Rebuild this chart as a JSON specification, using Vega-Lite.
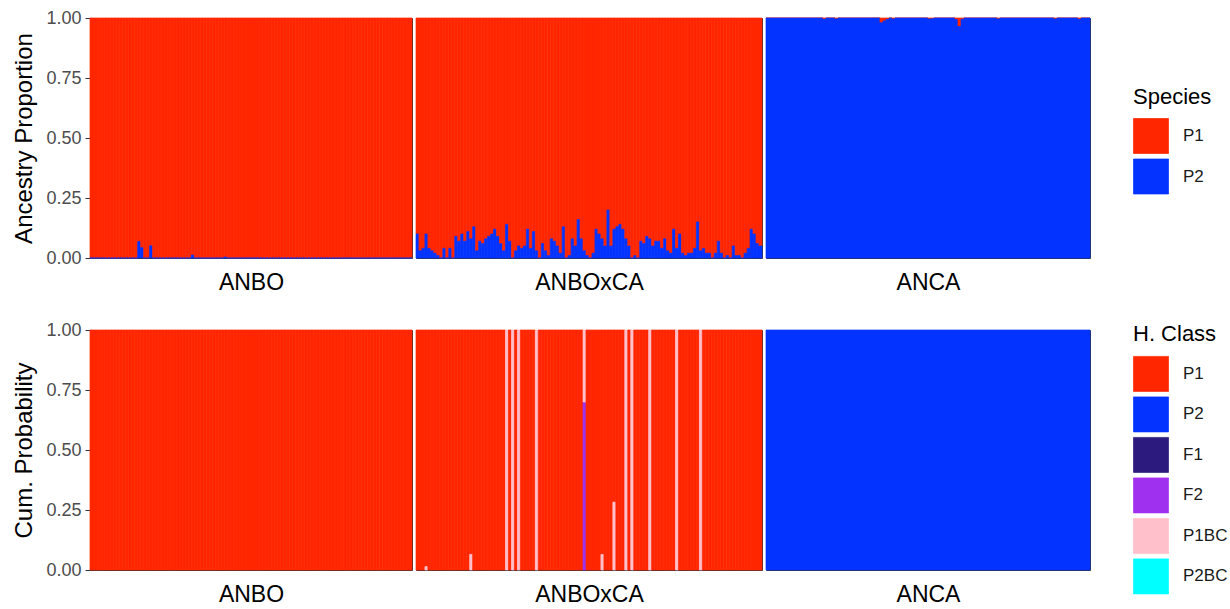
{
"$schema":"https://vega.github.io/schema/vega-lite/v6.json",
"padding":{"left":12,"top":8,"right":5,"bottom":5},
"background":"white",
"config":{
 "font":"Liberation Sans",
 "view":{"stroke":"#333333","strokeWidth":1},
 "axis":{"grid":false,"domain":false},
 "axisY":{"tickColor":"#333333","tickSize":5,"labelColor":"#4D4D4D","labelFontSize":18,"labelPadding":4,"labelFlush":false,"labelOverlap":false,"titleFontSize":24,"titleFontWeight":"normal","titleColor":"black","titlePadding":9},
 "axisX":{"labels":false,"ticks":false,"titleFontSize":23,"titleFontWeight":"normal","titleColor":"black","titlePadding":13},
 "bar":{"strokeWidth":0.7},
 "legend":{"titleFontSize":22,"titleFontWeight":"normal","titleColor":"black","labelFontSize":17,"labelColor":"#1A1A1A","symbolType":"square","symbolSize":1225,"symbolStrokeWidth":0,"symbolOpacity":1,"rowPadding":2.5,"labelOffset":14,"titlePadding":9.5}
},
"datasets":{
 "tANBO":[{"i":1,"P1":1,"P2":0},{"i":2,"P1":1,"P2":0},{"i":3,"P1":1,"P2":0},{"i":4,"P1":1,"P2":0},{"i":5,"P1":1,"P2":0},{"i":6,"P1":1,"P2":0},{"i":7,"P1":1,"P2":0},{"i":8,"P1":1,"P2":0},{"i":9,"P1":1,"P2":0},{"i":10,"P1":1,"P2":0},{"i":11,"P1":1,"P2":0},{"i":12,"P1":1,"P2":0},{"i":13,"P1":1,"P2":0},{"i":14,"P1":1,"P2":0},{"i":15,"P1":1,"P2":0},{"i":16,"P1":1,"P2":0},{"i":17,"P1":0.932,"P2":0.068},{"i":18,"P1":0.957,"P2":0.043},{"i":19,"P1":1,"P2":0},{"i":20,"P1":1,"P2":0},{"i":21,"P1":0.949,"P2":0.051},{"i":22,"P1":1,"P2":0},{"i":23,"P1":1,"P2":0},{"i":24,"P1":1,"P2":0},{"i":25,"P1":1,"P2":0},{"i":26,"P1":1,"P2":0},{"i":27,"P1":1,"P2":0},{"i":28,"P1":1,"P2":0},{"i":29,"P1":1,"P2":0},{"i":30,"P1":1,"P2":0},{"i":31,"P1":1,"P2":0},{"i":32,"P1":1,"P2":0},{"i":33,"P1":1,"P2":0},{"i":34,"P1":1,"P2":0},{"i":35,"P1":0.988,"P2":0.012},{"i":36,"P1":1,"P2":0},{"i":37,"P1":1,"P2":0},{"i":38,"P1":1,"P2":0},{"i":39,"P1":1,"P2":0},{"i":40,"P1":1,"P2":0},{"i":41,"P1":1,"P2":0},{"i":42,"P1":1,"P2":0},{"i":43,"P1":1,"P2":0},{"i":44,"P1":1,"P2":0},{"i":45,"P1":1,"P2":0},{"i":46,"P1":0.996,"P2":0.004},{"i":47,"P1":1,"P2":0},{"i":48,"P1":1,"P2":0},{"i":49,"P1":1,"P2":0},{"i":50,"P1":1,"P2":0},{"i":51,"P1":1,"P2":0},{"i":52,"P1":1,"P2":0},{"i":53,"P1":1,"P2":0},{"i":54,"P1":1,"P2":0},{"i":55,"P1":1,"P2":0},{"i":56,"P1":1,"P2":0},{"i":57,"P1":1,"P2":0},{"i":58,"P1":1,"P2":0},{"i":59,"P1":1,"P2":0},{"i":60,"P1":1,"P2":0},{"i":61,"P1":1,"P2":0},{"i":62,"P1":1,"P2":0},{"i":63,"P1":1,"P2":0},{"i":64,"P1":1,"P2":0},{"i":65,"P1":1,"P2":0},{"i":66,"P1":1,"P2":0},{"i":67,"P1":1,"P2":0},{"i":68,"P1":1,"P2":0},{"i":69,"P1":1,"P2":0},{"i":70,"P1":1,"P2":0},{"i":71,"P1":1,"P2":0},{"i":72,"P1":1,"P2":0},{"i":73,"P1":1,"P2":0},{"i":74,"P1":1,"P2":0},{"i":75,"P1":1,"P2":0},{"i":76,"P1":1,"P2":0},{"i":77,"P1":1,"P2":0},{"i":78,"P1":1,"P2":0},{"i":79,"P1":1,"P2":0},{"i":80,"P1":1,"P2":0},{"i":81,"P1":1,"P2":0},{"i":82,"P1":1,"P2":0},{"i":83,"P1":1,"P2":0},{"i":84,"P1":1,"P2":0},{"i":85,"P1":1,"P2":0},{"i":86,"P1":1,"P2":0},{"i":87,"P1":1,"P2":0},{"i":88,"P1":1,"P2":0},{"i":89,"P1":1,"P2":0},{"i":90,"P1":1,"P2":0},{"i":91,"P1":1,"P2":0},{"i":92,"P1":1,"P2":0},{"i":93,"P1":1,"P2":0},{"i":94,"P1":1,"P2":0},{"i":95,"P1":1,"P2":0},{"i":96,"P1":1,"P2":0},{"i":97,"P1":1,"P2":0},{"i":98,"P1":1,"P2":0},{"i":99,"P1":1,"P2":0},{"i":100,"P1":1,"P2":0},{"i":101,"P1":1,"P2":0},{"i":102,"P1":1,"P2":0},{"i":103,"P1":1,"P2":0},{"i":104,"P1":1,"P2":0},{"i":105,"P1":1,"P2":0},{"i":106,"P1":1,"P2":0},{"i":107,"P1":1,"P2":0},{"i":108,"P1":1,"P2":0}],
 "tHYB":[{"i":1,"P1":0.90,"P2":0.10},{"i":2,"P1":0.97,"P2":0.03},{"i":3,"P1":0.96,"P2":0.04},{"i":4,"P1":0.90,"P2":0.10},{"i":5,"P1":0.96,"P2":0.04},{"i":6,"P1":0.97,"P2":0.03},{"i":7,"P1":0.98,"P2":0.02},{"i":8,"P1":0.99,"P2":0.01},{"i":9,"P1":1,"P2":0},{"i":10,"P1":0.96,"P2":0.04},{"i":11,"P1":1,"P2":0},{"i":12,"P1":0.96,"P2":0.04},{"i":13,"P1":1,"P2":0},{"i":14,"P1":0.91,"P2":0.09},{"i":15,"P1":0.93,"P2":0.07},{"i":16,"P1":0.90,"P2":0.10},{"i":17,"P1":0.93,"P2":0.07},{"i":18,"P1":0.89,"P2":0.11},{"i":19,"P1":0.92,"P2":0.08},{"i":20,"P1":0.87,"P2":0.13},{"i":21,"P1":0.97,"P2":0.03},{"i":22,"P1":0.93,"P2":0.07},{"i":23,"P1":0.94,"P2":0.06},{"i":24,"P1":0.92,"P2":0.08},{"i":25,"P1":0.91,"P2":0.09},{"i":26,"P1":0.90,"P2":0.10},{"i":27,"P1":0.88,"P2":0.12},{"i":28,"P1":0.91,"P2":0.09},{"i":29,"P1":0.94,"P2":0.06},{"i":30,"P1":0.97,"P2":0.03},{"i":31,"P1":0.86,"P2":0.14},{"i":32,"P1":0.93,"P2":0.07},{"i":33,"P1":1,"P2":0},{"i":34,"P1":0.97,"P2":0.03},{"i":35,"P1":0.95,"P2":0.05},{"i":36,"P1":0.96,"P2":0.04},{"i":37,"P1":0.95,"P2":0.05},{"i":38,"P1":0.88,"P2":0.12},{"i":39,"P1":0.96,"P2":0.04},{"i":40,"P1":0.89,"P2":0.11},{"i":41,"P1":0.97,"P2":0.03},{"i":42,"P1":1,"P2":0},{"i":43,"P1":0.94,"P2":0.06},{"i":44,"P1":0.97,"P2":0.03},{"i":45,"P1":0.99,"P2":0.01},{"i":46,"P1":0.92,"P2":0.08},{"i":47,"P1":0.93,"P2":0.07},{"i":48,"P1":0.95,"P2":0.05},{"i":49,"P1":0.98,"P2":0.02},{"i":50,"P1":0.87,"P2":0.13},{"i":51,"P1":1,"P2":0},{"i":52,"P1":0.99,"P2":0.01},{"i":53,"P1":0.92,"P2":0.08},{"i":54,"P1":0.95,"P2":0.05},{"i":55,"P1":0.84,"P2":0.16},{"i":56,"P1":0.92,"P2":0.08},{"i":57,"P1":0.97,"P2":0.03},{"i":58,"P1":0.99,"P2":0.01},{"i":59,"P1":1,"P2":0},{"i":60,"P1":0.98,"P2":0.02},{"i":61,"P1":0.88,"P2":0.12},{"i":62,"P1":0.90,"P2":0.10},{"i":63,"P1":0.92,"P2":0.08},{"i":64,"P1":0.95,"P2":0.05},{"i":65,"P1":0.80,"P2":0.20},{"i":66,"P1":0.95,"P2":0.05},{"i":67,"P1":0.88,"P2":0.12},{"i":68,"P1":0.87,"P2":0.13},{"i":69,"P1":0.86,"P2":0.14},{"i":70,"P1":0.88,"P2":0.12},{"i":71,"P1":0.92,"P2":0.08},{"i":72,"P1":0.95,"P2":0.05},{"i":73,"P1":1,"P2":0},{"i":74,"P1":0.99,"P2":0.01},{"i":75,"P1":1,"P2":0},{"i":76,"P1":0.93,"P2":0.07},{"i":77,"P1":0.94,"P2":0.06},{"i":78,"P1":0.91,"P2":0.09},{"i":79,"P1":0.92,"P2":0.08},{"i":80,"P1":0.95,"P2":0.05},{"i":81,"P1":0.93,"P2":0.07},{"i":82,"P1":0.93,"P2":0.07},{"i":83,"P1":0.96,"P2":0.04},{"i":84,"P1":0.92,"P2":0.08},{"i":85,"P1":0.97,"P2":0.03},{"i":86,"P1":0.98,"P2":0.02},{"i":87,"P1":0.88,"P2":0.12},{"i":88,"P1":0.96,"P2":0.04},{"i":89,"P1":0.90,"P2":0.10},{"i":90,"P1":0.98,"P2":0.02},{"i":91,"P1":0.99,"P2":0.01},{"i":92,"P1":0.98,"P2":0.02},{"i":93,"P1":0.98,"P2":0.02},{"i":94,"P1":0.96,"P2":0.04},{"i":95,"P1":0.85,"P2":0.15},{"i":96,"P1":0.97,"P2":0.03},{"i":97,"P1":0.96,"P2":0.04},{"i":98,"P1":0.98,"P2":0.02},{"i":99,"P1":0.98,"P2":0.02},{"i":100,"P1":1,"P2":0},{"i":101,"P1":0.98,"P2":0.02},{"i":102,"P1":0.93,"P2":0.07},{"i":103,"P1":0.98,"P2":0.02},{"i":104,"P1":1,"P2":0},{"i":105,"P1":0.99,"P2":0.01},{"i":106,"P1":1,"P2":0},{"i":107,"P1":0.95,"P2":0.05},{"i":108,"P1":0.99,"P2":0.01},{"i":109,"P1":0.99,"P2":0.01},{"i":110,"P1":1,"P2":0},{"i":111,"P1":0.98,"P2":0.02},{"i":112,"P1":0.96,"P2":0.04},{"i":113,"P1":0.88,"P2":0.12},{"i":114,"P1":0.90,"P2":0.10},{"i":115,"P1":0.94,"P2":0.06},{"i":116,"P1":0.95,"P2":0.05}],
 "tANCA":[{"i":1,"P1":0,"P2":1},{"i":2,"P1":0,"P2":1},{"i":3,"P1":0,"P2":1},{"i":4,"P1":0,"P2":1},{"i":5,"P1":0,"P2":1},{"i":6,"P1":0,"P2":1},{"i":7,"P1":0,"P2":1},{"i":8,"P1":0,"P2":1},{"i":9,"P1":0,"P2":1},{"i":10,"P1":0,"P2":1},{"i":11,"P1":0,"P2":1},{"i":12,"P1":0,"P2":1},{"i":13,"P1":0,"P2":1},{"i":14,"P1":0,"P2":1},{"i":15,"P1":0,"P2":1},{"i":16,"P1":0,"P2":1},{"i":17,"P1":0,"P2":1},{"i":18,"P1":0,"P2":1},{"i":19,"P1":0,"P2":1},{"i":20,"P1":0.005,"P2":0.995},{"i":21,"P1":0,"P2":1},{"i":22,"P1":0,"P2":1},{"i":23,"P1":0,"P2":1},{"i":24,"P1":0.004,"P2":0.996},{"i":25,"P1":0,"P2":1},{"i":26,"P1":0,"P2":1},{"i":27,"P1":0,"P2":1},{"i":28,"P1":0,"P2":1},{"i":29,"P1":0,"P2":1},{"i":30,"P1":0,"P2":1},{"i":31,"P1":0,"P2":1},{"i":32,"P1":0,"P2":1},{"i":33,"P1":0,"P2":1},{"i":34,"P1":0,"P2":1},{"i":35,"P1":0,"P2":1},{"i":36,"P1":0,"P2":1},{"i":37,"P1":0,"P2":1},{"i":38,"P1":0,"P2":1},{"i":39,"P1":0.02,"P2":0.98},{"i":40,"P1":0.012,"P2":0.988},{"i":41,"P1":0.006,"P2":0.994},{"i":42,"P1":0,"P2":1},{"i":43,"P1":0.004,"P2":0.996},{"i":44,"P1":0,"P2":1},{"i":45,"P1":0,"P2":1},{"i":46,"P1":0,"P2":1},{"i":47,"P1":0,"P2":1},{"i":48,"P1":0,"P2":1},{"i":49,"P1":0,"P2":1},{"i":50,"P1":0,"P2":1},{"i":51,"P1":0,"P2":1},{"i":52,"P1":0,"P2":1},{"i":53,"P1":0,"P2":1},{"i":54,"P1":0,"P2":1},{"i":55,"P1":0.004,"P2":0.996},{"i":56,"P1":0.003,"P2":0.997},{"i":57,"P1":0,"P2":1},{"i":58,"P1":0,"P2":1},{"i":59,"P1":0,"P2":1},{"i":60,"P1":0,"P2":1},{"i":61,"P1":0,"P2":1},{"i":62,"P1":0,"P2":1},{"i":63,"P1":0,"P2":1},{"i":64,"P1":0.006,"P2":0.994},{"i":65,"P1":0.035,"P2":0.965},{"i":66,"P1":0.005,"P2":0.995},{"i":67,"P1":0,"P2":1},{"i":68,"P1":0,"P2":1},{"i":69,"P1":0,"P2":1},{"i":70,"P1":0,"P2":1},{"i":71,"P1":0,"P2":1},{"i":72,"P1":0,"P2":1},{"i":73,"P1":0,"P2":1},{"i":74,"P1":0,"P2":1},{"i":75,"P1":0,"P2":1},{"i":76,"P1":0,"P2":1},{"i":77,"P1":0,"P2":1},{"i":78,"P1":0.004,"P2":0.996},{"i":79,"P1":0,"P2":1},{"i":80,"P1":0,"P2":1},{"i":81,"P1":0,"P2":1},{"i":82,"P1":0,"P2":1},{"i":83,"P1":0,"P2":1},{"i":84,"P1":0,"P2":1},{"i":85,"P1":0,"P2":1},{"i":86,"P1":0,"P2":1},{"i":87,"P1":0,"P2":1},{"i":88,"P1":0,"P2":1},{"i":89,"P1":0,"P2":1},{"i":90,"P1":0,"P2":1},{"i":91,"P1":0,"P2":1},{"i":92,"P1":0,"P2":1},{"i":93,"P1":0,"P2":1},{"i":94,"P1":0,"P2":1},{"i":95,"P1":0,"P2":1},{"i":96,"P1":0,"P2":1},{"i":97,"P1":0.004,"P2":0.996},{"i":98,"P1":0,"P2":1},{"i":99,"P1":0,"P2":1},{"i":100,"P1":0,"P2":1},{"i":101,"P1":0,"P2":1},{"i":102,"P1":0,"P2":1},{"i":103,"P1":0,"P2":1},{"i":104,"P1":0,"P2":1},{"i":105,"P1":0.005,"P2":0.995},{"i":106,"P1":0,"P2":1},{"i":107,"P1":0,"P2":1},{"i":108,"P1":0,"P2":1}],
 "bANBO":[{"i":1,"c":"P1","p":1},{"i":2,"c":"P1","p":1},{"i":3,"c":"P1","p":1},{"i":4,"c":"P1","p":1},{"i":5,"c":"P1","p":1},{"i":6,"c":"P1","p":1},{"i":7,"c":"P1","p":1},{"i":8,"c":"P1","p":1},{"i":9,"c":"P1","p":1},{"i":10,"c":"P1","p":1},{"i":11,"c":"P1","p":1},{"i":12,"c":"P1","p":1},{"i":13,"c":"P1","p":1},{"i":14,"c":"P1","p":1},{"i":15,"c":"P1","p":1},{"i":16,"c":"P1","p":1},{"i":17,"c":"P1","p":1},{"i":18,"c":"P1","p":1},{"i":19,"c":"P1","p":1},{"i":20,"c":"P1","p":1},{"i":21,"c":"P1","p":1},{"i":22,"c":"P1","p":1},{"i":23,"c":"P1","p":1},{"i":24,"c":"P1","p":1},{"i":25,"c":"P1","p":1},{"i":26,"c":"P1","p":1},{"i":27,"c":"P1","p":1},{"i":28,"c":"P1","p":1},{"i":29,"c":"P1","p":1},{"i":30,"c":"P1","p":1},{"i":31,"c":"P1","p":1},{"i":32,"c":"P1","p":1},{"i":33,"c":"P1","p":1},{"i":34,"c":"P1","p":1},{"i":35,"c":"P1","p":1},{"i":36,"c":"P1","p":1},{"i":37,"c":"P1","p":1},{"i":38,"c":"P1","p":1},{"i":39,"c":"P1","p":1},{"i":40,"c":"P1","p":1},{"i":41,"c":"P1","p":1},{"i":42,"c":"P1","p":1},{"i":43,"c":"P1","p":1},{"i":44,"c":"P1","p":1},{"i":45,"c":"P1","p":1},{"i":46,"c":"P1","p":1},{"i":47,"c":"P1","p":1},{"i":48,"c":"P1","p":1},{"i":49,"c":"P1","p":1},{"i":50,"c":"P1","p":1},{"i":51,"c":"P1","p":1},{"i":52,"c":"P1","p":1},{"i":53,"c":"P1","p":1},{"i":54,"c":"P1","p":1},{"i":55,"c":"P1","p":1},{"i":56,"c":"P1","p":1},{"i":57,"c":"P1","p":1},{"i":58,"c":"P1","p":1},{"i":59,"c":"P1","p":1},{"i":60,"c":"P1","p":1},{"i":61,"c":"P1","p":1},{"i":62,"c":"P1","p":1},{"i":63,"c":"P1","p":1},{"i":64,"c":"P1","p":1},{"i":65,"c":"P1","p":1},{"i":66,"c":"P1","p":1},{"i":67,"c":"P1","p":1},{"i":68,"c":"P1","p":1},{"i":69,"c":"P1","p":1},{"i":70,"c":"P1","p":1},{"i":71,"c":"P1","p":1},{"i":72,"c":"P1","p":1},{"i":73,"c":"P1","p":1},{"i":74,"c":"P1","p":1},{"i":75,"c":"P1","p":1},{"i":76,"c":"P1","p":1},{"i":77,"c":"P1","p":1},{"i":78,"c":"P1","p":1},{"i":79,"c":"P1","p":1},{"i":80,"c":"P1","p":1},{"i":81,"c":"P1","p":1},{"i":82,"c":"P1","p":1},{"i":83,"c":"P1","p":1},{"i":84,"c":"P1","p":1},{"i":85,"c":"P1","p":1},{"i":86,"c":"P1","p":1},{"i":87,"c":"P1","p":1},{"i":88,"c":"P1","p":1},{"i":89,"c":"P1","p":1},{"i":90,"c":"P1","p":1},{"i":91,"c":"P1","p":1},{"i":92,"c":"P1","p":1},{"i":93,"c":"P1","p":1},{"i":94,"c":"P1","p":1},{"i":95,"c":"P1","p":1},{"i":96,"c":"P1","p":1},{"i":97,"c":"P1","p":1},{"i":98,"c":"P1","p":1},{"i":99,"c":"P1","p":1},{"i":100,"c":"P1","p":1},{"i":101,"c":"P1","p":1},{"i":102,"c":"P1","p":1},{"i":103,"c":"P1","p":1},{"i":104,"c":"P1","p":1},{"i":105,"c":"P1","p":1},{"i":106,"c":"P1","p":1},{"i":107,"c":"P1","p":1},{"i":108,"c":"P1","p":1}],
 "bHYB":[{"i":1,"c":"P1","p":1},{"i":2,"c":"P1","p":1},{"i":3,"c":"P1","p":1},{"i":4,"c":"P1","p":0.986},{"i":4,"c":"P1BC","p":0.014},{"i":5,"c":"P1","p":1},{"i":6,"c":"P1","p":1},{"i":7,"c":"P1","p":1},{"i":8,"c":"P1","p":1},{"i":9,"c":"P1","p":1},{"i":10,"c":"P1","p":1},{"i":11,"c":"P1","p":1},{"i":12,"c":"P1","p":1},{"i":13,"c":"P1","p":1},{"i":14,"c":"P1","p":1},{"i":15,"c":"P1","p":1},{"i":16,"c":"P1","p":1},{"i":17,"c":"P1","p":1},{"i":18,"c":"P1","p":1},{"i":19,"c":"P1","p":0.935},{"i":19,"c":"P1BC","p":0.065},{"i":20,"c":"P1","p":1},{"i":21,"c":"P1","p":1},{"i":22,"c":"P1","p":1},{"i":23,"c":"P1","p":1},{"i":24,"c":"P1","p":1},{"i":25,"c":"P1","p":1},{"i":26,"c":"P1","p":1},{"i":27,"c":"P1","p":1},{"i":28,"c":"P1","p":1},{"i":29,"c":"P1","p":1},{"i":30,"c":"P1","p":1},{"i":31,"c":"P1BC","p":1},{"i":32,"c":"P1","p":1},{"i":33,"c":"P1BC","p":1},{"i":34,"c":"P1","p":1},{"i":35,"c":"P1BC","p":1},{"i":36,"c":"P1","p":1},{"i":37,"c":"P1","p":1},{"i":38,"c":"P1","p":1},{"i":39,"c":"P1","p":1},{"i":40,"c":"P1","p":1},{"i":41,"c":"P1BC","p":1},{"i":42,"c":"P1","p":1},{"i":43,"c":"P1","p":1},{"i":44,"c":"P1","p":1},{"i":45,"c":"P1","p":1},{"i":46,"c":"P1","p":1},{"i":47,"c":"P1","p":1},{"i":48,"c":"P1","p":1},{"i":49,"c":"P1","p":1},{"i":50,"c":"P1","p":1},{"i":51,"c":"P1","p":1},{"i":52,"c":"P1","p":1},{"i":53,"c":"P1","p":1},{"i":54,"c":"P1","p":1},{"i":55,"c":"P1","p":1},{"i":56,"c":"P1","p":1},{"i":57,"c":"F2","p":0.70},{"i":57,"c":"P1BC","p":0.30},{"i":58,"c":"P1","p":1},{"i":59,"c":"P1","p":1},{"i":60,"c":"P1","p":1},{"i":61,"c":"P1","p":1},{"i":62,"c":"P1","p":1},{"i":63,"c":"P1","p":0.935},{"i":63,"c":"P1BC","p":0.065},{"i":64,"c":"P1","p":1},{"i":65,"c":"P1","p":1},{"i":66,"c":"P1","p":1},{"i":67,"c":"P1","p":0.717},{"i":67,"c":"P1BC","p":0.283},{"i":68,"c":"P1","p":1},{"i":69,"c":"P1","p":1},{"i":70,"c":"P1","p":1},{"i":71,"c":"P1BC","p":1},{"i":72,"c":"P1","p":1},{"i":73,"c":"P1BC","p":1},{"i":74,"c":"P1","p":1},{"i":75,"c":"P1","p":1},{"i":76,"c":"P1","p":1},{"i":77,"c":"P1","p":1},{"i":78,"c":"P1","p":1},{"i":79,"c":"P1BC","p":1},{"i":80,"c":"P1","p":1},{"i":81,"c":"P1","p":1},{"i":82,"c":"P1","p":1},{"i":83,"c":"P1","p":1},{"i":84,"c":"P1","p":1},{"i":85,"c":"P1","p":1},{"i":86,"c":"P1","p":1},{"i":87,"c":"P1","p":1},{"i":88,"c":"P1BC","p":1},{"i":89,"c":"P1","p":1},{"i":90,"c":"P1","p":1},{"i":91,"c":"P1","p":1},{"i":92,"c":"P1","p":1},{"i":93,"c":"P1","p":1},{"i":94,"c":"P1","p":1},{"i":95,"c":"P1","p":1},{"i":96,"c":"P1BC","p":1},{"i":97,"c":"P1","p":1},{"i":98,"c":"P1","p":1},{"i":99,"c":"P1","p":1},{"i":100,"c":"P1","p":1},{"i":101,"c":"P1","p":1},{"i":102,"c":"P1","p":1},{"i":103,"c":"P1","p":1},{"i":104,"c":"P1","p":1},{"i":105,"c":"P1","p":1},{"i":106,"c":"P1","p":1},{"i":107,"c":"P1","p":1},{"i":108,"c":"P1","p":1},{"i":109,"c":"P1","p":1},{"i":110,"c":"P1","p":1},{"i":111,"c":"P1","p":1},{"i":112,"c":"P1","p":1},{"i":113,"c":"P1","p":1},{"i":114,"c":"P1","p":1},{"i":115,"c":"P1","p":1},{"i":116,"c":"P1","p":1}],
 "bANCA":[{"i":1,"c":"P2","p":1},{"i":2,"c":"P2","p":1},{"i":3,"c":"P2","p":1},{"i":4,"c":"P2","p":1},{"i":5,"c":"P2","p":1},{"i":6,"c":"P2","p":1},{"i":7,"c":"P2","p":1},{"i":8,"c":"P2","p":1},{"i":9,"c":"P2","p":1},{"i":10,"c":"P2","p":1},{"i":11,"c":"P2","p":1},{"i":12,"c":"P2","p":1},{"i":13,"c":"P2","p":1},{"i":14,"c":"P2","p":1},{"i":15,"c":"P2","p":1},{"i":16,"c":"P2","p":1},{"i":17,"c":"P2","p":1},{"i":18,"c":"P2","p":1},{"i":19,"c":"P2","p":1},{"i":20,"c":"P2","p":1},{"i":21,"c":"P2","p":1},{"i":22,"c":"P2","p":1},{"i":23,"c":"P2","p":1},{"i":24,"c":"P2","p":1},{"i":25,"c":"P2","p":1},{"i":26,"c":"P2","p":1},{"i":27,"c":"P2","p":1},{"i":28,"c":"P2","p":1},{"i":29,"c":"P2","p":1},{"i":30,"c":"P2","p":1},{"i":31,"c":"P2","p":1},{"i":32,"c":"P2","p":1},{"i":33,"c":"P2","p":1},{"i":34,"c":"P2","p":1},{"i":35,"c":"P2","p":1},{"i":36,"c":"P2","p":1},{"i":37,"c":"P2","p":1},{"i":38,"c":"P2","p":1},{"i":39,"c":"P2","p":1},{"i":40,"c":"P2","p":1},{"i":41,"c":"P2","p":1},{"i":42,"c":"P2","p":1},{"i":43,"c":"P2","p":1},{"i":44,"c":"P2","p":1},{"i":45,"c":"P2","p":1},{"i":46,"c":"P2","p":1},{"i":47,"c":"P2","p":1},{"i":48,"c":"P2","p":1},{"i":49,"c":"P2","p":1},{"i":50,"c":"P2","p":1},{"i":51,"c":"P2","p":1},{"i":52,"c":"P2","p":1},{"i":53,"c":"P2","p":1},{"i":54,"c":"P2","p":1},{"i":55,"c":"P2","p":1},{"i":56,"c":"P2","p":1},{"i":57,"c":"P2","p":1},{"i":58,"c":"P2","p":1},{"i":59,"c":"P2","p":1},{"i":60,"c":"P2","p":1},{"i":61,"c":"P2","p":1},{"i":62,"c":"P2","p":1},{"i":63,"c":"P2","p":1},{"i":64,"c":"P2","p":1},{"i":65,"c":"P2","p":1},{"i":66,"c":"P2","p":1},{"i":67,"c":"P2","p":1},{"i":68,"c":"P2","p":1},{"i":69,"c":"P2","p":1},{"i":70,"c":"P2","p":1},{"i":71,"c":"P2","p":1},{"i":72,"c":"P2","p":1},{"i":73,"c":"P2","p":1},{"i":74,"c":"P2","p":1},{"i":75,"c":"P2","p":1},{"i":76,"c":"P2","p":1},{"i":77,"c":"P2","p":1},{"i":78,"c":"P2","p":1},{"i":79,"c":"P2","p":1},{"i":80,"c":"P2","p":1},{"i":81,"c":"P2","p":1},{"i":82,"c":"P2","p":1},{"i":83,"c":"P2","p":1},{"i":84,"c":"P2","p":1},{"i":85,"c":"P2","p":1},{"i":86,"c":"P2","p":1},{"i":87,"c":"P2","p":1},{"i":88,"c":"P2","p":1},{"i":89,"c":"P2","p":1},{"i":90,"c":"P2","p":1},{"i":91,"c":"P2","p":1},{"i":92,"c":"P2","p":1},{"i":93,"c":"P2","p":1},{"i":94,"c":"P2","p":1},{"i":95,"c":"P2","p":1},{"i":96,"c":"P2","p":1},{"i":97,"c":"P2","p":1},{"i":98,"c":"P2","p":1},{"i":99,"c":"P2","p":1},{"i":100,"c":"P2","p":1},{"i":101,"c":"P2","p":1},{"i":102,"c":"P2","p":1},{"i":103,"c":"P2","p":1},{"i":104,"c":"P2","p":1},{"i":105,"c":"P2","p":1},{"i":106,"c":"P2","p":1},{"i":107,"c":"P2","p":1},{"i":108,"c":"P2","p":1}]
},
"spacing":25,
"resolve":{"scale":{"x":"independent","y":"independent","color":"independent","stroke":"independent"},"legend":{"color":"independent"}},
"vconcat":[
 {"spacing":2,
  "resolve":{"scale":{"x":"independent","y":"independent","color":"independent","stroke":"independent"},"legend":{"color":"independent"}},
  "hconcat":[
  {"width":322,"height":240,"data":{"name":"tANBO"},
   "transform":[{"fold":["P1","P2"],"as":["sp","q"]}],
   "mark":{"type":"bar"},
   "encoding":{
    "x":{"field":"i","type":"ordinal","scale":{"paddingInner":0,"paddingOuter":0},"axis":{"title":"ANBO"}},
    "y":{"field":"q","type":"quantitative","stack":"zero","scale":{"domain":[0,1],"nice":false},"axis":{"title":"Ancestry Proportion","values":[0,0.25,0.5,0.75,1],"format":".2f"}},
    "color":{"field":"sp","type":"nominal","scale":{"domain":["P1","P2"],"range":["#FF2600","#0433FF"]},"legend":null},
    "stroke":{"field":"sp","type":"nominal","scale":{"domain":["P1","P2"],"range":["#FF2600","#0433FF"]},"legend":null},
    "order":{"field":"sp","sort":"descending"}}},
  {"width":346,"height":240,"data":{"name":"tHYB"},
   "transform":[{"fold":["P1","P2"],"as":["sp","q"]}],
   "mark":{"type":"bar"},
   "encoding":{
    "x":{"field":"i","type":"ordinal","scale":{"paddingInner":0,"paddingOuter":0},"axis":{"title":"ANBOxCA"}},
    "y":{"field":"q","type":"quantitative","stack":"zero","scale":{"domain":[0,1],"nice":false},"axis":null},
    "color":{"field":"sp","type":"nominal","scale":{"domain":["P1","P2"],"range":["#FF2600","#0433FF"]},"legend":null},
    "stroke":{"field":"sp","type":"nominal","scale":{"domain":["P1","P2"],"range":["#FF2600","#0433FF"]},"legend":null},
    "order":{"field":"sp","sort":"descending"}}},
  {"width":324,"height":240,"data":{"name":"tANCA"},
   "transform":[{"fold":["P1","P2"],"as":["sp","q"]}],
   "mark":{"type":"bar"},
   "encoding":{
    "x":{"field":"i","type":"ordinal","scale":{"paddingInner":0,"paddingOuter":0},"axis":{"title":"ANCA"}},
    "y":{"field":"q","type":"quantitative","stack":"zero","scale":{"domain":[0,1],"nice":false},"axis":null},
    "color":{"field":"sp","type":"nominal","scale":{"domain":["P1","P2"],"range":["#FF2600","#0433FF"]},"legend":{"title":"Species","orient":"none","legendX":367,"legendY":68.5}},
    "stroke":{"field":"sp","type":"nominal","scale":{"domain":["P1","P2"],"range":["#FF2600","#0433FF"]},"legend":null},
    "order":{"field":"sp","sort":"descending"}}}
 ]},
 {"spacing":2,
  "resolve":{"scale":{"x":"independent","y":"independent","color":"independent","stroke":"independent"},"legend":{"color":"independent"}},
  "hconcat":[
  {"width":322,"height":240,"data":{"name":"bANBO"},
   "transform":[{"calculate":"indexof(['F2','P1BC','P2BC','F1','P2','P1'], datum.c)","as":"o"}],
   "mark":{"type":"bar"},
   "encoding":{
    "x":{"field":"i","type":"ordinal","scale":{"paddingInner":0,"paddingOuter":0},"axis":{"title":"ANBO"}},
    "y":{"field":"p","type":"quantitative","stack":"zero","scale":{"domain":[0,1],"nice":false},"axis":{"title":"Cum. Probability","values":[0,0.25,0.5,0.75,1],"format":".2f"}},
    "color":{"field":"c","type":"nominal","scale":{"domain":["P1","P2","F1","F2","P1BC","P2BC"],"range":["#FF2600","#0433FF","#2C1A7E","#A030F0","#FFC0CB","#00FFFF"]},"legend":null},
    "stroke":{"field":"c","type":"nominal","scale":{"domain":["P1","P2","F1","F2","P1BC","P2BC"],"range":["#FF2600","#0433FF","#2C1A7E","#A030F0","#FFC0CB","#00FFFF"]},"legend":null},
    "order":{"field":"o"}}},
  {"width":346,"height":240,"data":{"name":"bHYB"},
   "transform":[{"calculate":"indexof(['F2','P1BC','P2BC','F1','P2','P1'], datum.c)","as":"o"}],
   "mark":{"type":"bar"},
   "encoding":{
    "x":{"field":"i","type":"ordinal","scale":{"paddingInner":0,"paddingOuter":0},"axis":{"title":"ANBOxCA"}},
    "y":{"field":"p","type":"quantitative","stack":"zero","scale":{"domain":[0,1],"nice":false},"axis":null},
    "color":{"field":"c","type":"nominal","scale":{"domain":["P1","P2","F1","F2","P1BC","P2BC"],"range":["#FF2600","#0433FF","#2C1A7E","#A030F0","#FFC0CB","#00FFFF"]},"legend":null},
    "stroke":{"field":"c","type":"nominal","scale":{"domain":["P1","P2","F1","F2","P1BC","P2BC"],"range":["#FF2600","#0433FF","#2C1A7E","#A030F0","#FFC0CB","#00FFFF"]},"legend":null},
    "order":{"field":"o"}}},
  {"width":324,"height":240,"data":{"name":"bANCA"},
   "transform":[{"calculate":"indexof(['F2','P1BC','P2BC','F1','P2','P1'], datum.c)","as":"o"}],
   "mark":{"type":"bar"},
   "encoding":{
    "x":{"field":"i","type":"ordinal","scale":{"paddingInner":0,"paddingOuter":0},"axis":{"title":"ANCA"}},
    "y":{"field":"p","type":"quantitative","stack":"zero","scale":{"domain":[0,1],"nice":false},"axis":null},
    "color":{"field":"c","type":"nominal","scale":{"domain":["P1","P2","F1","F2","P1BC","P2BC"],"range":["#FF2600","#0433FF","#2C1A7E","#A030F0","#FFC0CB","#00FFFF"]},"legend":{"title":"H. Class","orient":"none","legendX":367,"legendY":-5.6}},
    "stroke":{"field":"c","type":"nominal","scale":{"domain":["P1","P2","F1","F2","P1BC","P2BC"],"range":["#FF2600","#0433FF","#2C1A7E","#A030F0","#FFC0CB","#00FFFF"]},"legend":null},
    "order":{"field":"o"}}}
 ]}
]
}
